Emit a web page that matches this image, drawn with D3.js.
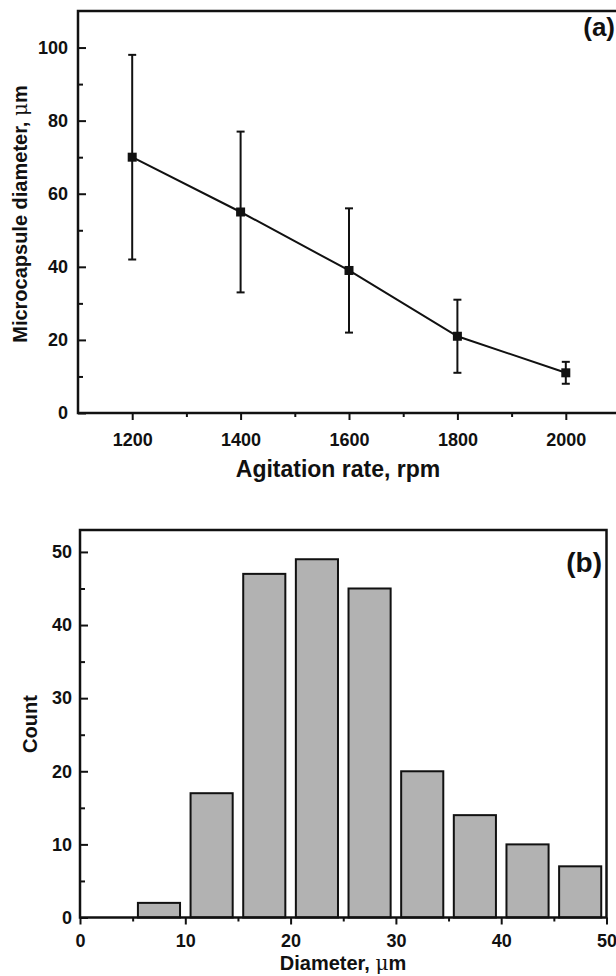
<!DOCTYPE html>
<html lang="en">
<head>
<meta charset="utf-8">
<title>Microcapsule diameter vs agitation rate, size histogram</title>
<script src="https://d3js.org/d3.v7.min.js"></script>
<style>
  body { margin: 0; background: #fff; }
  svg text { font-family: "Liberation Sans", Arial, sans-serif; font-weight: bold; fill: #111; }
  .tick text { font-size: 18px; }
  .tick line { stroke: #111; stroke-width: 2; }
  .mu { font-family: "DejaVu Serif", "Liberation Serif", serif; font-weight: normal; }
</style>
</head>
<body>
<script>
// panel (a): mean diameter vs agitation rate
var rpm = [1200, 1400, 1600, 1800, 2000];
var meanDiameter = [70, 55, 39, 21, 11];
var errLow = [42, 33, 22, 11, 8];
var errHigh = [98, 77, 56, 31, 14];

// panel (b): histogram of diameters (bins of 5 um)
var binStart = [5, 10, 15, 20, 25, 30, 35, 40, 45];
var binCount = [2, 17, 47, 49, 45, 20, 14, 10, 7];

// tick values
var aXTicks = [1200, 1400, 1600, 1800, 2000];
var aXMinor = [1300, 1500, 1700, 1900, 2100];
var aYTicks = [0, 20, 40, 60, 80, 100];
var aYMinor = [10, 30, 50, 70, 90];
var bXTicks = [0, 10, 20, 30, 40, 50];
var bXMinor = [5, 15, 25, 35, 45];
var bYTicks = [0, 10, 20, 30, 40, 50];
var bYMinor = [5, 15, 25, 35, 45];

var w = 616, h = 976;
var svg = d3.select("body").append("svg")
  .attr("width", w).attr("height", h);

svg.append("rect").attr("width", w).attr("height", h).attr("fill", "#fff");

//----- panel (a)
var xa = d3.scaleLinear().domain([1100, 2100]).range([78, 620]);
var ya = d3.scaleLinear().domain([0, 110]).range([413, 11]);

var ga = svg.append("g");

// axes
ga.append("g").attr("transform", "translate(0," + ya(0) + ")")
  .call(d3.axisBottom(xa).tickValues(aXTicks).tickSize(7).tickPadding(13).tickFormat(d3.format("d")))
  .call(function(g) { g.select(".domain").remove(); });
ga.append("g").attr("transform", "translate(0," + ya(0) + ")")
  .call(d3.axisBottom(xa).tickValues(aXMinor).tickSize(4).tickFormat(""))
  .call(function(g) { g.select(".domain").remove(); });
ga.append("g").attr("transform", "translate(" + xa(1100) + ",0)")
  .call(d3.axisLeft(ya).tickValues(aYTicks).tickSize(-8).tickPadding(10))
  .call(function(g) { g.select(".domain").remove(); });
ga.append("g").attr("transform", "translate(" + xa(1100) + ",0)")
  .call(d3.axisLeft(ya).tickValues(aYMinor).tickSize(-5).tickFormat(""))
  .call(function(g) { g.select(".domain").remove(); });

// frame
ga.append("rect")
  .attr("x", xa(1100)).attr("y", ya(110))
  .attr("width", xa(2100) - xa(1100)).attr("height", ya(0) - ya(110))
  .attr("fill", "none").attr("stroke", "#111").attr("stroke-width", 2.5);

var ptsA = rpm.map(function(r, i) {
  return { x: r, y: meanDiameter[i], lo: errLow[i], hi: errHigh[i] };
});

// error bars
ga.selectAll(".err").data(ptsA).enter().append("line")
  .attr("x1", function(d) { return xa(d.x); }).attr("x2", function(d) { return xa(d.x); })
  .attr("y1", function(d) { return ya(d.lo); }).attr("y2", function(d) { return ya(d.hi); })
  .attr("stroke", "#111").attr("stroke-width", 2);
ga.selectAll(".capHi").data(ptsA).enter().append("line")
  .attr("x1", function(d) { return xa(d.x) - 4; }).attr("x2", function(d) { return xa(d.x) + 4; })
  .attr("y1", function(d) { return ya(d.hi); }).attr("y2", function(d) { return ya(d.hi); })
  .attr("stroke", "#111").attr("stroke-width", 2);
ga.selectAll(".capLo").data(ptsA).enter().append("line")
  .attr("x1", function(d) { return xa(d.x) - 4; }).attr("x2", function(d) { return xa(d.x) + 4; })
  .attr("y1", function(d) { return ya(d.lo); }).attr("y2", function(d) { return ya(d.lo); })
  .attr("stroke", "#111").attr("stroke-width", 2);

// connecting line
var line = d3.line().x(function(d) { return xa(d.x); }).y(function(d) { return ya(d.y); });
ga.append("path").datum(ptsA)
  .attr("d", line).attr("fill", "none").attr("stroke", "#111").attr("stroke-width", 2);

// square markers
ga.selectAll(".mk").data(ptsA).enter().append("rect")
  .attr("x", function(d) { return xa(d.x) - 4.5; })
  .attr("y", function(d) { return ya(d.y) - 4.5; })
  .attr("width", 9).attr("height", 9).attr("fill", "#111");

// labels
ga.append("text").attr("x", 338).attr("y", 477).attr("text-anchor", "middle")
  .style("font-size", "23px").text("Agitation rate, rpm");
var ta = ga.append("text").attr("transform", "translate(27,214) rotate(-90)")
  .attr("text-anchor", "middle").style("font-size", "20px");
ta.append("tspan").text("Microcapsule diameter, ");
ta.append("tspan").attr("class", "mu").text("\u03bc");
ta.append("tspan").text("m");
ga.append("text").attr("x", 615).attr("y", 36).attr("text-anchor", "end")
  .style("font-size", "26px").text("(a)");

//----- panel (b)
var xb = d3.scaleLinear().domain([0, 50]).range([80, 606.5]);
var yb = d3.scaleLinear().domain([0, 53]).range([917.5, 530]);

var gb = svg.append("g");

var bins = binStart.map(function(s, i) { return { x0: s, x1: s + 5, n: binCount[i] }; });

gb.selectAll(".bar").data(bins).enter().append("rect")
  .attr("x", function(d) { return xb(d.x0 + 0.5); })
  .attr("y", function(d) { return yb(d.n); })
  .attr("width", function(d) { return xb(d.x1 - 0.5) - xb(d.x0 + 0.5); })
  .attr("height", function(d) { return yb(0) - yb(d.n); })
  .attr("fill", "#b2b2b2").attr("stroke", "#111").attr("stroke-width", 2);

gb.append("g").attr("transform", "translate(0," + yb(0) + ")")
  .call(d3.axisBottom(xb).tickValues(bXTicks).tickSize(7).tickPadding(10))
  .call(function(g) { g.select(".domain").remove(); });
gb.append("g").attr("transform", "translate(0," + yb(0) + ")")
  .call(d3.axisBottom(xb).tickValues(bXMinor).tickSize(4).tickFormat(""))
  .call(function(g) { g.select(".domain").remove(); });
gb.append("g").attr("transform", "translate(" + xb(0) + ",0)")
  .call(d3.axisLeft(yb).tickValues(bYTicks).tickSize(-8).tickPadding(8))
  .call(function(g) { g.select(".domain").remove(); });
gb.append("g").attr("transform", "translate(" + xb(0) + ",0)")
  .call(d3.axisLeft(yb).tickValues(bYMinor).tickSize(-5).tickFormat(""))
  .call(function(g) { g.select(".domain").remove(); });

gb.append("rect")
  .attr("x", xb(0)).attr("y", yb(53))
  .attr("width", xb(50) - xb(0)).attr("height", yb(0) - yb(53))
  .attr("fill", "none").attr("stroke", "#111").attr("stroke-width", 2.5);

var tb = gb.append("text").attr("x", 343).attr("y", 970).attr("text-anchor", "middle")
  .style("font-size", "20px");
tb.append("tspan").text("Diameter, ");
tb.append("tspan").attr("class", "mu").text("\u03bc");
tb.append("tspan").text("m");
gb.append("text").attr("transform", "translate(37,724) rotate(-90)")
  .attr("text-anchor", "middle").style("font-size", "20px").text("Count");
gb.append("text").attr("x", 602).attr("y", 572).attr("text-anchor", "end")
  .style("font-size", "28px").text("(b)");
</script>
</body>
</html>
